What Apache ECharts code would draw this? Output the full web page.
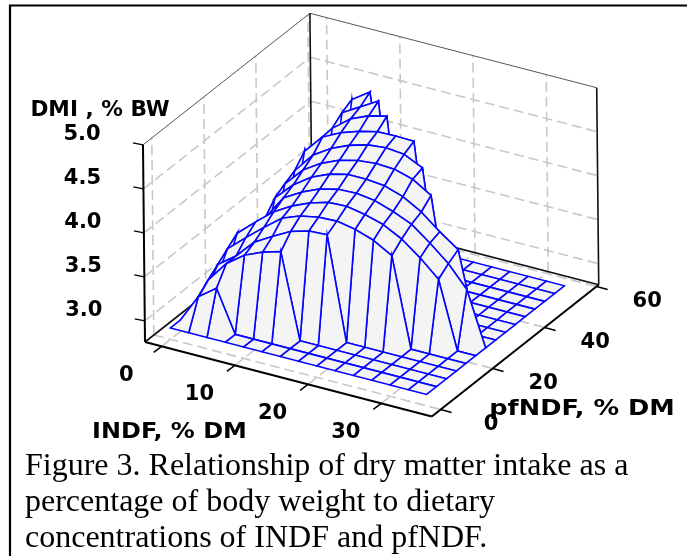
<!DOCTYPE html>
<html><head><meta charset="utf-8">
<style>html,body{margin:0;padding:0;background:#fff}#c{width:687px;height:556px}</style>
<script src="https://cdn.jsdelivr.net/npm/echarts@6/dist/echarts.min.js"></script>
</head><body><div id="c"></div>
<script>
const indfGrid=[0,2.5,5,7.5,10,12.5,15,17.5,20,22.5,25,27.5,30,32.5,35];
const pfGrid=[0,3.8,7.6,11.4,15.1,18.9,22.7,26.5,30.3,34.1,37.9,41.6,45.4,49.2,53];
const b=2.89;
const dmiRow0=[b,b,b,b,b,b,b,b,b,b,b,b,b,b,b];
const dmiRow1=[b,3.21,3.36,b,b,b,b,b,b,b,b,b,b,b,b];
const dmiRow2=[b,3.31,3.55,3.70,3.79,3.85,b,b,b,b,b,b,b,b,b];
const dmiRow3=[b,3.40,3.55,3.76,3.88,3.99,4.05,4.06,b,b,b,b,b,b,b];
const dmiRow4=[b,3.49,3.67,3.84,4.00,4.08,4.12,4.13,4.09,4.02,3.90,b,b,b,b];
const dmiRow5=[b,3.58,3.76,3.93,4.05,4.14,4.20,4.21,4.17,4.11,4.00,3.84,3.65,b,b];
const dmiRow6=[b,b,3.72,4.00,4.12,4.21,4.26,4.27,4.24,4.17,4.08,3.92,3.74,3.50,b];
const dmiRow7=[b,b,3.86,4.06,4.20,4.29,4.34,4.34,4.32,4.25,4.13,3.96,3.81,b,b];
const dmiRow8=[b,b,3.93,4.14,4.27,4.36,4.41,4.43,4.42,4.36,4.23,b,b,b,b];
const dmiRow9=[b,b,3.99,4.22,4.35,4.44,4.50,4.52,4.50,4.40,b,b,b,b,b];
const dmiRow10=[b,b,4.12,4.34,4.44,4.51,4.56,4.565,4.56,b,b,b,b,b,b];
const dmiRow11=[b,b,b,4.35,4.51,4.60,4.65,b,b,b,b,b,b,b,b];
const dmiRow12=[b,b,b,4.44,4.56,4.68,b,b,b,b,b,b,b,b,b];
const dmiRow13=[b,b,b,4.50,4.64,b,b,b,b,b,b,b,b,b,b];
const dmiRow14=[b,b,b,b,b,b,b,b,b,b,b,b,b,b,b];
const dmi=[dmiRow0,dmiRow1,dmiRow2,dmiRow3,dmiRow4,dmiRow5,dmiRow6,dmiRow7,dmiRow8,dmiRow9,dmiRow10,dmiRow11,dmiRow12,dmiRow13,dmiRow14];
const indfTicks=[0,10,20,30];
const pfTicks=[0,20,40,60];
const dmiTicks=[3.0,3.5,4.0,4.5,5.0];
const captionLines=['Figure 3. Relationship of dry matter intake as a','percentage of body weight to dietary','concentrations of INDF and pfNDF.'];

// axis box and oblique scale
const I0=-2.28,I1=36.9,P0=-3.4,P1=60.8,Z0=2.76,Z1=5.0;
function proj(i,p,z){return [145+(i-I0)*7.32+(p-P0)*2.6-(z-Z0)*0.9, 342+(i-I0)*1.9-(p-P0)*2.05-(z-Z0)*88];}

const BLUE='#0505ff',GRID='#c8c8c8';
const dashed=[], solid=[], thin=[];
dmiTicks.filter(z=>z<Z1).forEach(z=>{dashed.push([[I0,P0,z],[I0,P1,z]]);dashed.push([[I0,P1,z],[I1,P1,z]]);});
pfTicks.forEach(p=>{dashed.push([[I0,p,Z0],[I0,p,Z1]]);dashed.push([[I0,p,Z0],[I1,p,Z0]]);});
indfTicks.forEach(i=>{dashed.push([[i,P1,Z0],[i,P1,Z1]]);dashed.push([[i,P0,Z0],[i,P1,Z0]]);});
solid.push([[I0,P1,Z0],[I0,P1,Z1]],[[I1,P1,Z0],[I1,P1,Z1]],[[I0,P0,Z0],[I0,P1,Z0]],[[I0,P1,Z0],[I1,P1,Z0]]);
const front=[[[I0,P0,Z0],[I0,P0,Z1]],[[I0,P0,Z0],[I1,P0,Z0]],[[I1,P0,Z0],[I1,P1,Z0]]];
thin.push([[I0,P0,Z1],[I0,P1,Z1]],[[I0,P1,Z1],[I1,P1,Z1]]);

const quads=[];
for(let j=pfGrid.length-2;j>=0;j--)for(let i=indfGrid.length-2;i>=0;i--)quads.push([i,j]);

function lineSeries(list,style,z){
  return {type:'custom',coordinateSystem:'cartesian2d',z,silent:true,animation:false,
    data:list.map((_,k)=>[k]),
    renderItem(params,api){
      const s=list[api.value(0)];
      const a=api.coord(proj(...s[0])),c=api.coord(proj(...s[1]));
      return {type:'line',shape:{x1:a[0],y1:a[1],x2:c[0],y2:c[1]},style};
    }};
}
const tickItems=[];
const font='bold 21px "DejaVu Sans"';
indfTicks.forEach(v=>tickItems.push({at:[v,P0,Z0],d:[-8,6],txt:String(v),off:[-35.5,29]}));
pfTicks.forEach(v=>tickItems.push({at:[I1,v,Z0],d:[11,3],txt:String(v),off:[50.5,15.5]}));
dmiTicks.forEach(v=>tickItems.push({at:[I0,P0,v],d:[-10,-2],txt:v.toFixed(1),off:[-61,-10.5]}));

const titles=[
 {txt:'DMI , % BW',x:100,y:110.5,sx:1.03},
 {txt:'INDF, % DM',x:169.5,y:432.5,sx:1.14},
 {txt:'pfNDF, % DM',x:582,y:410,sx:1.22}
];

const option={
  animation:false,
  grid:{left:0,right:0,top:0,bottom:0,containLabel:false},
  xAxis:{type:'value',min:0,max:687,show:false},
  yAxis:{type:'value',min:0,max:556,inverse:true,show:false},
  graphic:[
    {type:'polyline',z:100,silent:true,shape:{points:[[10,570],[10,5.5],[700,5.5]]},style:{fill:null,stroke:'#000',lineWidth:2.2}}
  ].concat(captionLines.map((t,k)=>({type:'text',z:100,silent:true,x:25,y:467+k*36,style:{text:t,font:'32px "Liberation Serif"',fill:'#000',verticalAlign:'middle'}}))),
  series:[
    lineSeries(dashed,{stroke:GRID,lineWidth:1.6,lineDash:[10,5],fill:null},1),
    lineSeries(thin,{stroke:'#555',lineWidth:1,fill:null},2),
    lineSeries(solid,{stroke:'#111',lineWidth:1.6,fill:null},2),
    {type:'custom',coordinateSystem:'cartesian2d',z:3,silent:true,animation:false,progressive:0,
      data:quads,
      renderItem(params,api){
        const i=api.value(0),j=api.value(1);
        const pts=[[i,j],[i+1,j],[i+1,j+1],[i,j+1]].map(q=>api.coord(proj(indfGrid[q[0]],pfGrid[q[1]],dmi[q[1]][q[0]])));
        return {type:'polygon',shape:{points:pts},style:{fill:'#f4f4f4',stroke:BLUE,lineWidth:1.6}};
      }},
    lineSeries(front,{stroke:'#000',lineWidth:2,fill:null},4),
    {type:'custom',coordinateSystem:'cartesian2d',z:5,silent:true,animation:false,
      data:tickItems.map((_,k)=>[k]),
      renderItem(params,api){
        const t=tickItems[api.value(0)];
        const a=api.coord(proj(...t.at));
        return {type:'group',children:[
          {type:'line',shape:{x1:a[0],y1:a[1],x2:a[0]+t.d[0],y2:a[1]+t.d[1]},style:{stroke:'#000',lineWidth:1.5}},
          {type:'text',x:a[0]+t.off[0],y:a[1]+t.off[1],style:{text:t.txt,font,fill:'#000',align:'center',verticalAlign:'middle'}}
        ]};
      }},
    {type:'custom',coordinateSystem:'cartesian2d',z:5,silent:true,animation:false,
      data:titles.map((_,k)=>[k]),
      renderItem(params,api){
        const t=titles[api.value(0)];
        const a=api.coord([t.x,t.y]);
        return {type:'text',x:a[0],y:a[1],scaleX:t.sx,style:{text:t.txt,font,fill:'#000',align:'center',verticalAlign:'middle'}};
      }}
  ]
};
const chart=echarts.init(document.getElementById('c'),null,{renderer:'canvas'});
chart.setOption(option);
</script></body></html>
